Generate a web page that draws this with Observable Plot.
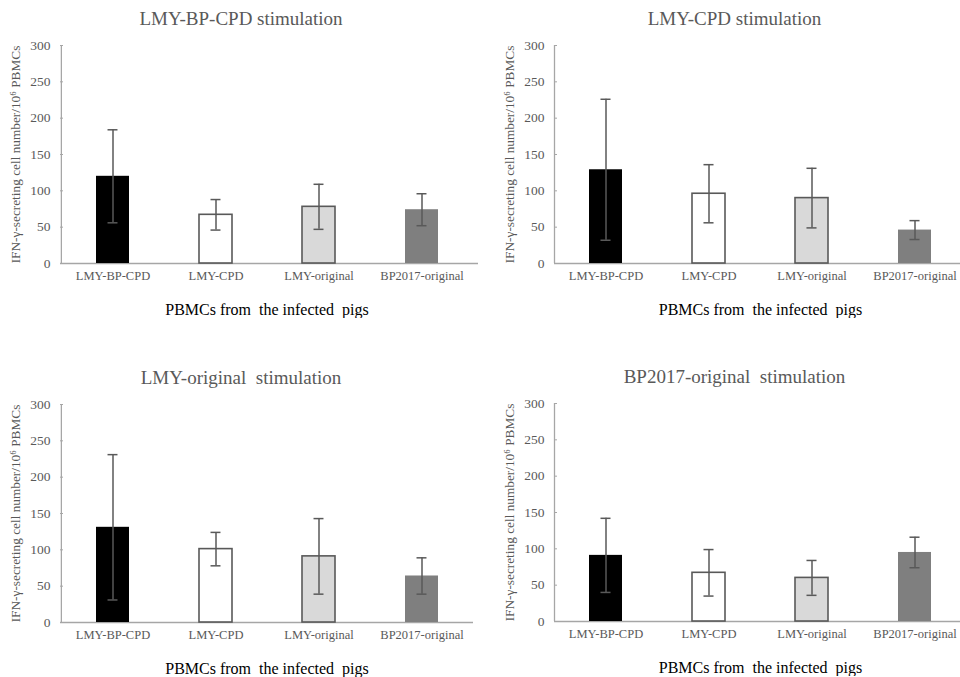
<!DOCTYPE html>
<html><head><meta charset="utf-8">
<script src="https://cdn.jsdelivr.net/npm/d3@7"></script>
<script src="https://cdn.jsdelivr.net/npm/@observablehq/plot@0.6"></script>
<style>
body{margin:0;background:#fff;overflow:hidden}
#wrap{position:relative;width:960px;height:677px;overflow:hidden;background:#fff}
.p{position:absolute}
</style>
</head><body><div id="wrap"></div>
<script>
// categories (PBMC source groups)
const groups = ["LMY-BP-CPD", "LMY-CPD", "LMY-original", "BP2017-original"];
const titles = ["LMY-BP-CPD stimulation", "LMY-CPD stimulation", "LMY-original\u00a0 stimulation", "BP2017-original\u00a0 stimulation"];
const yTicks = [0, 50, 100, 150, 200, 250, 300];
const yLabel = "IFN-\u03b3-secreting cell number/10\u2076 PBMCs";
const xLabel = "PBMCs from\u00a0 the infected\u00a0 pigs";

// means and error (±)
const meanBPCPD = [120, 67, 78, 74];
const errBPCPD  = [64, 21, 31, 22];
const meanCPD   = [129, 96, 90, 46];
const errCPD    = [97, 40, 41, 13];
const meanLMYo  = [131, 101, 91, 64];
const errLMYo   = [100, 23, 52, 25];
const meanBP17  = [91, 67, 60, 95];
const errBP17   = [51, 32, 24, 21];

const barFill = ["#000000", "#ffffff", "#d9d9d9", "#7f7f7f"];
const barOutline = ["none", "#595959", "#595959", "none"];

function panel(title, means, errs, left, top, marginLeft, width, marginRight, axisExtend) {
  const data = groups.map((g, i) => ({g, m: means[i], lo: means[i] - errs[i], hi: means[i] + errs[i], f: barFill[i], s: barOutline[i]}));
  const pi = 0.68;
  const fw = width - marginLeft - marginRight;
  const step = fw / 4;
  const bw = step * (1 - pi);
  const capInset = (bw - 10) / 2;
  const chart = Plot.plot({
    width, height: 318,
    marginLeft, marginRight, marginTop: 45, marginBottom: 55,
    style: {fontFamily: "'Liberation Serif', 'Times New Roman', serif", background: "#fff"},
    x: {domain: groups, paddingInner: pi, paddingOuter: pi / 2, axis: null},
    y: {domain: [0, 300], axis: null},
    color: {type: "identity"},
    marks: [
      Plot.ruleY([0], {stroke: "#a6a6a6", strokeWidth: 1.3, insetRight: -axisExtend}),
      Plot.ruleX([groups[0]], {y1: 0, y2: 300, dx: -step / 2, stroke: "#a6a6a6", strokeWidth: 1.3}),
      Plot.tickY(yTicks, {y: d => d, stroke: "#a6a6a6", insetRight: fw - 3}),
      Plot.axisY(yTicks, {tickSize: 0, tickPadding: 10, fontSize: 13.5, color: "#595959", label: null}),
      Plot.text([yLabel], {frameAnchor: "left", textAnchor: "middle", lineAnchor: "middle", rotate: -90, dx: -45, fontSize: 13.3, fill: "#595959"}),
      Plot.axisX({tickSize: 0, tickPadding: 8, fontSize: 12.5, color: "#595959", label: null}),
      Plot.barY(data, {x: "g", y: "m", fill: "f", stroke: "s", strokeWidth: 1.6}),
      Plot.ruleX(data, {x: "g", y1: "lo", y2: "hi", stroke: "#595959", strokeWidth: 1.5}),
      Plot.tickY(data, {x: "g", y: "hi", stroke: "#595959", strokeWidth: 1.5, insetLeft: capInset, insetRight: capInset}),
      Plot.tickY(data, {x: "g", y: "lo", stroke: "#595959", strokeWidth: 1.5, insetLeft: capInset, insetRight: capInset}),
      Plot.text([title], {frameAnchor: "top", lineAnchor: "middle", dy: -27, dx: -26, fontSize: 19, fill: "#595959"}),
      Plot.text([xLabel], {frameAnchor: "bottom", lineAnchor: "middle", dy: 46, fontSize: 16, fill: "#000"})
    ]
  });
  chart.classList.add("p");
  chart.style.left = left + "px";
  chart.style.top = top + "px";
  document.getElementById("wrap").appendChild(chart);
}

panel(titles[0], meanBPCPD, errBPCPD, 0, 0, 60, 480, 7, 5);
panel(titles[1], meanCPD, errCPD, 480, 0, 74, 486, 0, 0);
panel(titles[2], meanLMYo, errLMYo, 0, 359, 60, 480, 7, 0);
panel(titles[3], meanBP17, errBP17, 480, 358, 74, 486, 0, 0);
</script>
</body></html>
